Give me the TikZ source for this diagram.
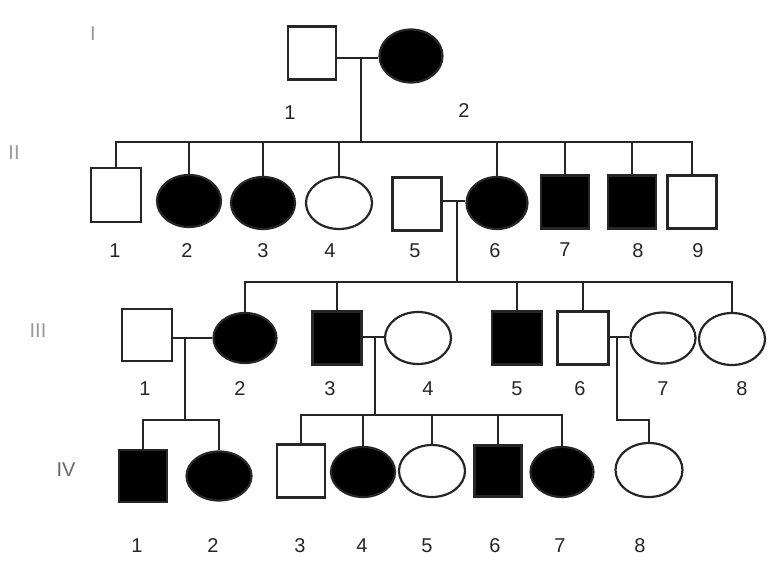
\documentclass[tikz,border=0pt]{standalone}
\usepackage{fontspec}
\setmainfont{Liberation Sans}
\usetikzlibrary{shapes.geometric}
\begin{document}
\begin{tikzpicture}[x=1pt,y=-1pt,
  ln/.style={line width=2.2pt, draw=black!85},
  male/.style={ln, rectangle, minimum width=48pt, minimum height=53pt, inner sep=0pt},
  female/.style={ln, ellipse, minimum width=64pt, minimum height=52pt, inner sep=0pt},
  aff/.style={fill=black},
  num/.style={font=\fontsize{20}{20}\selectfont, text=black!85, inner sep=0pt},
  gen/.style={font=\fontsize{20}{20}\selectfont, text=black!40, inner sep=0pt}]
\useasboundingbox (0,0) rectangle (771,561);
% generation labels
\node[gen] (gI) at (93,34) {I};
\node[gen] (gII) at (14,153) {II};
\node[gen] (gIII) at (38,331) {III};
\node[gen, text=black!60] (gIV) at (66,470) {IV};
% Generation I
\node[male] (I1) at (312,53) {};
\node[female, aff, minimum width=63pt, minimum height=53pt] (I2) at (411,56) {};
\node[num] (lI1) at (290,113) {1};
\node[num] (lI2) at (464,111) {2};
% Generation II
\node[male, minimum width=50pt, minimum height=54pt] (II1) at (116,195) {};
\node[female, aff] (II2) at (189,201) {};
\node[female, aff] (II3) at (263,203) {};
\node[female, minimum width=66pt] (II4) at (339,203) {};
\node[male, minimum width=49pt] (II5) at (417,204) {};
\node[female, aff, minimum width=61pt] (II6) at (497,203) {};
\node[male, aff] (II7) at (565,202) {};
\node[male, aff] (II8) at (632,202) {};
\node[male, minimum width=49pt] (II9) at (692,202) {};
\node[num] (lII1) at (115,251) {1};
\node[num] (lII2) at (187,251) {2};
\node[num] (lII3) at (263,251) {3};
\node[num] (lII4) at (330,251) {4};
\node[num] (lII5) at (415,251) {5};
\node[num] (lII6) at (495,251) {6};
\node[num] (lII7) at (565,250) {7};
\node[num] (lII8) at (638,251) {8};
\node[num] (lII9) at (698,251) {9};
% Generation III
\node[male, minimum width=50pt, minimum height=52pt] (III1) at (147,335) {};
\node[female, aff, minimum width=63pt, minimum height=50pt] (III2) at (245,338) {};
\node[male, aff, minimum width=49pt] (III3) at (337,338) {};
\node[female, minimum width=66pt] (III4) at (418,338) {};
\node[male, aff, minimum width=50pt] (III5) at (517,338) {};
\node[male, minimum width=51pt] (III6) at (583,338) {};
\node[female, minimum width=65pt, minimum height=51pt] (III7) at (663,338) {};
\node[female, minimum width=66pt] (III8) at (732,339) {};
\node[num] (lIII1) at (145,389) {1};
\node[num] (lIII2) at (240,389) {2};
\node[num] (lIII3) at (330,389) {3};
\node[num] (lIII4) at (428,389) {4};
\node[num] (lIII5) at (517,389) {5};
\node[num] (lIII6) at (580,389) {6};
\node[num] (lIII7) at (663,389) {7};
\node[num] (lIII8) at (742,389) {8};
% Generation IV
\node[male, aff, minimum width=48pt, minimum height=52pt] (IV1) at (143,476) {};
\node[female, aff, minimum width=65pt, minimum height=49pt] (IV2) at (219,476) {};
\node[male, minimum width=48pt] (IV3) at (301,471) {};
\node[female, aff, minimum width=64pt, minimum height=50pt] (IV4) at (363,472) {};
\node[female, minimum width=66pt] (IV5) at (432,471) {};
\node[male, aff, minimum width=47pt, minimum height=51pt] (IV6) at (498,471) {};
\node[female, aff, minimum width=63pt, minimum height=50pt] (IV7) at (562,472) {};
\node[female, minimum width=67pt, minimum height=54pt] (IV8) at (649,470) {};
\node[num] (lIV1) at (137,546) {1};
\node[num] (lIV2) at (213,546) {2};
\node[num] (lIV3) at (300,546) {3};
\node[num] (lIV4) at (362,546) {4};
\node[num] (lIV5) at (427,546) {5};
\node[num] (lIV6) at (495,546) {6};
\node[num] (lIV7) at (560,546) {7};
\node[num] (lIV8) at (640,546) {8};
% marriage points and sibship levels
\coordinate (m1) at (361,58);
\coordinate (s2) at (0,142);
\coordinate (m2) at (457,201);
\coordinate (s3) at (0,282);
\coordinate (m3) at (185,338);
\coordinate (s4a) at (0,420);
\coordinate (m4) at (375,337);
\coordinate (s4b) at (0,415);
\coordinate (m5) at (617,337);
% Generation I connectors
\draw[ln] (I1.east |- m1) -- (I2.west |- m1);
\draw[ln] (m1) -- (m1 |- s2);
\draw[ln] (II1.north) |- (s2 -| II9.north) -- (II9.north);
\foreach \c in {II2,II3,II4,II6,II7,II8} \draw[ln] (\c.north) -- (\c.north |- s2);
% Generation II connectors
\draw[ln] (II5.east |- m2) -- (II6.west |- m2);
\draw[ln] (m2) -- (m2 |- s3);
\draw[ln] (III2.north) |- (s3 -| III8.north) -- (III8.north);
\foreach \c in {III3,III5,III6} \draw[ln] (\c.north) -- (\c.north |- s3);
% Generation III connectors
\draw[ln] (III1.east |- m3) -- (III2.west |- m3);
\draw[ln] (m3) -- (m3 |- s4a);
\draw[ln] (IV1.north) |- (s4a -| IV2.north) -- (IV2.north);
\draw[ln] (III3.east |- m4) -- (III4.west |- m4);
\draw[ln] (m4) -- (m4 |- s4b);
\draw[ln] (IV3.north) |- (s4b -| IV7.north) -- (IV7.north);
\foreach \c in {IV4,IV5,IV6} \draw[ln] (\c.north) -- (\c.north |- s4b);
\draw[ln] (III6.east |- m5) -- (III7.west |- m5);
\draw[ln] (m5) |- (s4a -| IV8.north) -- (IV8.north);
\end{tikzpicture}
\end{document}
